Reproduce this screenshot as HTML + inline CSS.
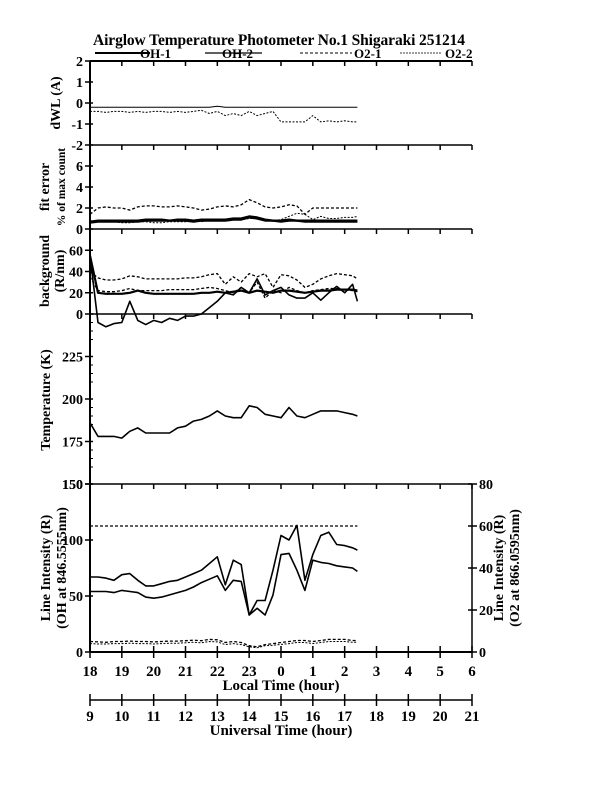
<!DOCTYPE html>
<html><head><meta charset="utf-8">
<style>
body{margin:0;background:#fff;}
svg{display:block;font-family:"Liberation Serif",serif;font-weight:bold;}
</style></head>
<body>
<svg id="chart" width="612" height="792" viewBox="0 0 612 792" xmlns="http://www.w3.org/2000/svg">
<text x="279" y="45" font-size="15.5" text-anchor="middle" textLength="372">Airglow Temperature Photometer No.1  Shigaraki  251214</text>
<g id="legend" font-size="13">
 <g><line x1="95" y1="53" x2="150" y2="53" stroke="#000" stroke-width="2"/><text x="140" y="58">OH-1</text></g>
 <g><line x1="205" y1="53" x2="262" y2="53" stroke="#000" stroke-width="1.3"/><text x="222" y="58">OH-2</text></g>
 <g><line x1="300" y1="53" x2="352" y2="53" stroke="#000" stroke-dasharray="3,2"/><text x="354" y="58">O2-1</text></g>
 <g><line x1="400" y1="53" x2="442" y2="53" stroke="#000" stroke-width="0.8" stroke-dasharray="2,1"/><text x="445" y="58">O2-2</text></g>
</g>
<g id="axes"></g>
<g id="marks"></g>
<g>
 <text transform="translate(60,103) rotate(-90)" font-size="14" text-anchor="middle">dWL (A)</text>
 <text transform="translate(49,187) rotate(-90)" font-size="14" text-anchor="middle">fit error</text>
 <text transform="translate(65,187) rotate(-90)" font-size="11.5" text-anchor="middle">% of max count</text>
 <text transform="translate(49,271) rotate(-90)" font-size="14" text-anchor="middle">background</text>
 <text transform="translate(64,271) rotate(-90)" font-size="14" text-anchor="middle">(R/nm)</text>
 <text transform="translate(50,400) rotate(-90)" font-size="14" text-anchor="middle">Temperature (K)</text>
 <text transform="translate(50,568) rotate(-90)" font-size="14" text-anchor="middle">Line Intensity (R)</text>
 <text transform="translate(66,568) rotate(-90)" font-size="14" text-anchor="middle">(OH at 846.5555nm)</text>
 <text transform="translate(503,568) rotate(-90)" font-size="14" text-anchor="middle">Line Intensity (R)</text>
 <text transform="translate(519,568) rotate(-90)" font-size="14" text-anchor="middle">(O2 at 866.0595nm)</text>
</g>
<text x="281" y="690" font-size="15" text-anchor="middle">Local Time (hour)</text>
<text x="281" y="735" font-size="15" text-anchor="middle">Universal Time (hour)</text>
</svg>
<script>
const times = [18,18.25,18.5,18.75,19,19.25,19.5,19.75,20,20.25,20.5,20.75,21,21.25,21.5,21.75,22,22.25,22.5,22.75,23,23.25,23.5,23.75,24,24.25,24.5,24.75,25,25.25,25.5,25.75,26,26.25,26.4];
const localTicks = [18,19,20,21,22,23,0,1,2,3,4,5,6];
const utTicks = [9,10,11,12,13,14,15,16,17,18,19,20,21];
const dwlOH1 = [-0.2,-0.2,-0.2,-0.2,-0.2,-0.2,-0.2,-0.2,-0.2,-0.2,-0.2,-0.2,-0.2,-0.2,-0.2,-0.2,-0.15,-0.2,-0.2,-0.2,-0.2,-0.2,-0.2,-0.2,-0.2,-0.2,-0.2,-0.2,-0.2,-0.2,-0.2,-0.2,-0.2,-0.2,-0.2];
const dwlO2 = [-0.4,-0.4,-0.45,-0.4,-0.4,-0.45,-0.4,-0.45,-0.4,-0.4,-0.45,-0.4,-0.45,-0.4,-0.35,-0.5,-0.4,-0.6,-0.5,-0.6,-0.4,-0.6,-0.5,-0.4,-0.9,-0.9,-0.9,-0.9,-0.6,-0.9,-0.85,-0.9,-0.85,-0.9,-0.9];
const feOH1 = [0.6,0.7,0.7,0.7,0.7,0.7,0.7,0.8,0.8,0.8,0.8,0.8,0.8,0.7,0.8,0.8,0.8,0.8,0.9,0.9,1.1,1.0,0.8,0.8,0.7,0.8,0.8,0.7,0.7,0.7,0.7,0.7,0.7,0.7,0.7];
const feOH2 = [0.7,0.8,0.8,0.8,0.8,0.8,0.8,0.9,0.9,0.9,0.8,0.9,0.9,0.8,0.9,0.9,0.9,0.9,1.0,1.0,1.2,1.1,0.9,0.8,0.8,0.9,0.8,0.8,0.8,0.8,0.8,0.8,0.8,0.8,0.8];
const feO21 = [0.8,0.7,0.7,0.7,0.6,0.6,0.7,0.7,0.6,0.6,0.7,0.7,0.7,0.8,0.7,0.8,0.8,0.8,0.9,0.9,1.0,1.0,0.8,0.8,0.9,1.2,1.5,1.4,0.9,1.2,1.0,1.0,1.1,1.1,1.2];
const feO22 = [1.4,2.0,2.1,2.0,2.0,1.8,2.1,2.2,2.2,2.1,2.1,2.2,2.1,2.0,1.8,1.9,2.1,2.2,2.1,2.3,2.8,2.5,2.1,2.0,2.1,2.3,2.2,1.4,2.0,2.0,2.0,2.0,2.0,2.0,2.0];
const bgOH1 = [55,20,19,19,19,20,22,20,19,19,19,19,19,19,20,20,21,20,21,22,20,22,21,20,22,22,21,20,21,22,22,23,23,23,22];
const bgOH2 = [55,-8,-12,-9,-8,12,-6,-10,-6,-8,-4,-6,-2,-2,0,6,12,20,18,25,20,33,18,22,25,18,15,15,20,13,20,26,20,28,12];
const bgO21 = [35,22,21,21,22,24,22,22,22,22,23,23,23,23,24,25,24,22,20,25,20,30,15,22,20,25,22,20,22,23,24,24,23,22,21];
const bgO22 = [40,34,32,32,33,36,35,33,33,33,33,33,34,34,35,37,38,28,35,30,38,35,38,25,37,36,32,25,28,33,36,38,37,36,33];
const tempOH = [186,178,178,178,177,181,183,180,180,180,180,183,184,187,188,190,193,190,189,189,196,195,191,190,189,195,190,189,191,193,193,193,192,191,190];
const intOH1 = [67,67,66,64,69,70,64,59,59,61,63,64,67,70,73,79,85,60,82,78,33,46,46,73,104,100,113,64,87,104,107,96,95,93,91];
const intOH2 = [54,54,54,53,55,54,53,49,48,49,51,53,55,58,62,65,68,55,64,63,33,39,33,51,87,88,73,55,82,80,79,77,76,75,72];
const intO21 = [5,4.8,4.6,5,5,5.2,5,5,4.8,5,5.2,5.2,5.4,5.6,5.4,6,5.8,4.5,5,4.5,3,2.5,3.5,4,4.5,5,5.5,5.5,5,5.5,6,6,6,5.5,5.5];
const intO22 = [4,3.8,3.8,4,4,4.2,4,4,3.8,4,4.2,4.2,4.4,4.6,4.4,5,4.8,3.5,4,3.5,2.5,2,3,3.2,3.6,4,4.5,4.5,4,4.5,5,5,5,4.6,4.6];
const intO2Ref = [60,60];
const refTimes = [18,26.4];

const NS='http://www.w3.org/2000/svg';
const axesG=document.getElementById('axes'), marksG=document.getElementById('marks');
const X0=90, X1=472;
const xL=t=>X0+(t-18)*(X1-X0)/12;
const xU=u=>X0+(u-9)*(X1-X0)/12;
function lin(d0,d1,r0,r1){return v=>r0+(v-d0)*(r1-r0)/(d1-d0);}
const panels={
 dwl:{top:61,bot:145,min:-2,max:2},
 fe:{top:145,bot:229,min:0,max:8},
 bg:{top:229,bot:314,min:0,max:80},
 temp:{top:314,bot:484,min:150,max:250},
 int:{top:484,bot:652,min:0,max:150},
 intR:{top:484,bot:652,min:0,max:80}
};
for(const k in panels){const p=panels[k];p.y=lin(p.min,p.max,p.bot,p.top);}
function el(tag,attrs,parent){const e=document.createElementNS(NS,tag);for(const a in attrs)e.setAttribute(a,attrs[a]);parent.appendChild(e);return e;}
function line(x1,y1,x2,y2,w,parent){return el('line',{x1,y1,x2,y2,stroke:'#000','stroke-width':w},parent);}
function txt(x,y,s,size,anchor,parent){const t=el('text',{x,y,'font-size':size,'text-anchor':anchor},parent);t.textContent=s;return t;}

const la=line(X0,61,X0,652,2,axesG);


const ra=line(X1,484,X1,652,1.5,axesG);


[61,145,229,314,484,652].forEach((y,i)=>{
 const h=line(X0,y,X1,y,i==0||i==5?2:1.5,axesG);
 
 
 localTicks.forEach((_,j)=>{const x=X0+j*(X1-X0)/12;
  if(i==5) line(x,y,x,y-6,1.5,axesG); else line(x,y,x,y+5,1.5,axesG);
  if(i==5) line(x,y,x,y+6,1.5,axesG);
 });
});
function yTicks(p,vals,side){
 vals.forEach(v=>{const y=p.y(v);
  if(side=='L'){line(X0-5,y,X0+3,y,1.5,axesG);const t=txt(X0-7,y+5,String(v),14,'end',axesG);
   
   }
  else {line(X1-4,y,X1+5,y,1.5,axesG);const t=txt(X1+7,y+5,String(v),14,'start',axesG);
   
   }
 });
}
yTicks(panels.dwl,[2,1,0,-1,-2],'L');
yTicks(panels.fe,[6,4,2,0],'L');
yTicks(panels.bg,[60,40,20,0],'L');
yTicks(panels.temp,[225,200,175,150],'L');
yTicks(panels.int,[150,100,50,0],'L');
yTicks(panels.intR,[80,60,40,20,0],'R');
[185,190,195,210,215,220,235,240,245,160,165,170].forEach(v=>line(X0,panels.temp.y(v),X0+3,panels.temp.y(v),1,axesG));
localTicks.forEach((v,j)=>{const t=txt(X0+j*(X1-X0)/12,676,String(v),15,'middle',axesG);
 
 });
const ua=line(X0,700,X1,700,1.5,axesG);


utTicks.forEach(u=>{const x=xU(u);line(x,694,x,706,1.5,axesG);
 const t=txt(x,721,String(u),15,'middle',axesG);
 
 });

function series(ts,vals,p,style,name){
 const d=vals.map((v,i)=>(i?'L':'M')+xL(ts[i]).toFixed(1)+','+p.y(v).toFixed(1)).join(' ');
 const e=el('path',{d,fill:'none',stroke:'#000','stroke-width':style.w,'stroke-linejoin':'round'},marksG);
 if(style.dash)e.setAttribute('stroke-dasharray',style.dash);
 
 
}
const S1={w:2.2},S2={w:1.6},SD={w:1.3,dash:'3,2'},SP={w:1,dash:'2,1.5'};
series(times,dwlOH1,panels.dwl,{w:1},'dwl-oh-line');
series(times,dwlO2,panels.dwl,SP,'dwl-o2-line');
series(times,feO22,panels.fe,SD,'fit-error-o2-2');
series(times,feO21,panels.fe,SP,'fit-error-o2-1');
series(times,feOH2,panels.fe,S1,'fit-error-oh-2');
series(times,feOH1,panels.fe,S1,'fit-error-oh-1');
series(times,bgO22,panels.bg,SD,'background-o2-2');
series(times,bgO21,panels.bg,SD,'background-o2-1');
series(times,bgOH1,panels.bg,S1,'background-oh-1');
series(times,bgOH2,panels.bg,S2,'background-oh-2');
series(times,tempOH,panels.temp,S2,'temperature-line');
series(times,intOH1,panels.int,S2,'intensity-oh-1');
series(times,intOH2,panels.int,S2,'intensity-oh-2');
series(refTimes,intO2Ref,panels.intR,SD,'intensity-o2-reference');
series(times,intO21,panels.intR,SD,'intensity-o2-1');
series(times,intO22,panels.intR,SP,'intensity-o2-2');
</script>
</body></html>
